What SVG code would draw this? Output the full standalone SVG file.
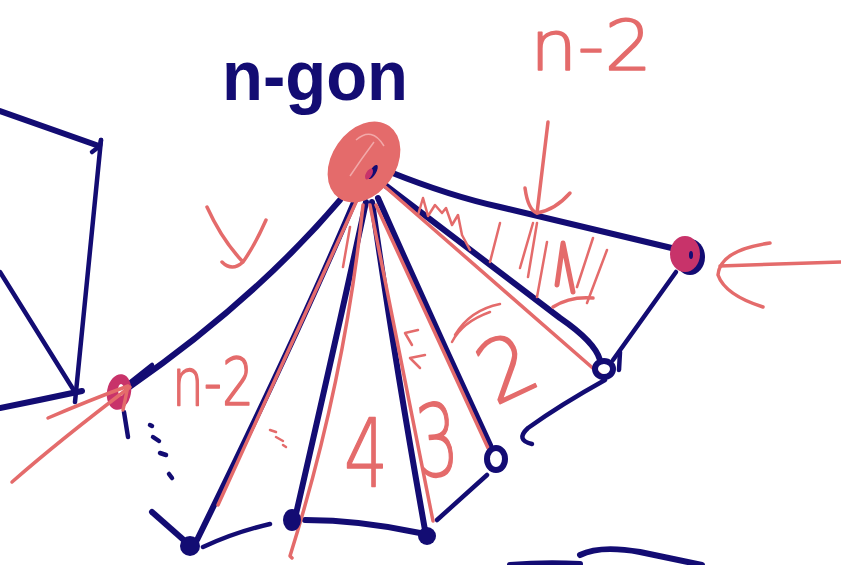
<svg xmlns="http://www.w3.org/2000/svg" width="841" height="565" viewBox="0 0 841 565">
<style>
.nv{fill:none;stroke:#130C73;stroke-width:6;stroke-linecap:round;stroke-linejoin:round}
.nt{fill:none;stroke:#130C73;stroke-width:4.5;stroke-linecap:round;stroke-linejoin:round}
.co{fill:none;stroke:#E46B6B;stroke-width:3.5;stroke-linecap:round;stroke-linejoin:round}
.ct{fill:none;stroke:#E46B6B;stroke-width:2.5;stroke-linecap:round;stroke-linejoin:round}
.lab{fill:#E46B6B;stroke:#E46B6B;stroke-width:1.5;stroke-linejoin:round;font-family:"DejaVu Sans","Liberation Sans",sans-serif;font-weight:200}
.title{fill:#130C73;font-family:"Liberation Sans","DejaVu Sans",sans-serif;font-weight:bold}
.dot{fill:#130C73}
</style>
<rect width="841" height="565" fill="#ffffff"/>

<g id="connectors">
  <path class="nv" d="M0,111 L99,146"/>
  <path class="nt" d="M92,152 L100,146 L101,140"/>
  <path class="nt" d="M101,140 L75,402"/>
  <path class="nt" d="M0,272 L73,389"/>
  <path class="nv" d="M0,408 Q40,400 82,391"/>
  <path class="nv" d="M340,200 Q255,300 128,388"/>
  <path class="nt" d="M128,384 L152,365"/>
  <path class="nv" d="M355,200 Q300,330 197,540"/>
  <path class="nv" d="M366,202 Q345,300 296,514"/>
  <path class="nv" d="M372,202 Q393,350 425,530"/>
  <path class="nv" d="M378,198 Q432,320 490,445"/>
  <path class="nv" d="M385,185 L560,318 Q595,342 600,360"/>
  <path class="nv" d="M390,172 Q450,196 500,207 L680,250"/>
  <path class="nt" d="M676,272 L613,360"/>
  <path class="nt" d="M620,352 L619,370"/>
  <path class="nt" d="M605,380 Q560,405 528,428 Q515,440 532,444"/>
  <path class="nt" d="M487,475 L437,520"/>
  <path class="nv" d="M420,533 Q360,520 305,520"/>
  <path class="nt" d="M270,524 Q235,532 203,547"/>
  <path class="nv" d="M152,512 L186,542"/>
  <path class="nt" d="M124,412 L128,437"/>
  <path class="nv" d="M580,555 Q600,545 640,552 L702,565"/>
  <path class="nv" d="M510,565 Q545,562 580,564"/>
  <path class="nt" d="M150,425 L152,426 M153,437 L159,441 M160,453 L166,455 M169,474 L172,478"/>
</g>

<g id="red-lines">
  <path class="co" d="M357,200 L218,505"/>
  <path class="ct" d="M350,227 L343,267"/>
  <path class="co" d="M363,205 Q345,380 290,556 L292,558"/>
  <path class="co" d="M370,205 L433,521"/>
  <path class="co" d="M376,205 L488,448"/>
  <path class="co" d="M383,185 L603,377"/>
  <path class="ct" d="M270,430 L276,432 M276,437 L283,441 M283,445 L286,447"/>
</g>

<g id="hatching">
  <path class="ct" d="M418,215 L423,198 L428,216 L435,205 L442,213 L446,208 L452,225 L458,215 L462,235 L470,250"/>
  <path class="ct" d="M500,223 L490,262"/>
  <path class="ct" d="M533,223 L520,268 M537,223 L528,277"/>
  <path class="ct" d="M547,242 L537,297"/>
  <path class="co" style="stroke-width:5" d="M557,285 L563,243 L573,292"/>
  <path class="ct" d="M593,238 L577,287"/>
  <path class="ct" d="M607,250 L587,303"/>
  <path class="co" d="M553,307 Q570,296 593,298"/>
  <path class="ct" d="M500,304 Q470,310 455,335 M490,312 Q462,322 452,342"/>
  <path class="ct" d="M412,345 L405,333 L418,330 M420,368 L410,358 L425,355"/>
</g>

<g id="apex-node">
  <ellipse cx="364" cy="162" rx="32" ry="44" transform="rotate(35 364 162)" fill="#E46B6B"/>
  <path fill="none" stroke="#F2A9A9" stroke-width="1.5" d="M356,140 Q372,126 384,146 M350,176 Q362,158 374,142"/>
  <ellipse cx="373" cy="172" rx="3" ry="8" transform="rotate(30 373 172)" fill="#130C73"/>
  <ellipse cx="369" cy="174" rx="3" ry="6" transform="rotate(30 369 174)" fill="#C8336A"/>
</g>

<g id="right-node">
  <ellipse cx="690" cy="257" rx="15" ry="18" fill="#130C73"/>
  <ellipse cx="685" cy="254" rx="15" ry="18" fill="#C8336A"/>
  <ellipse cx="691" cy="255" rx="2" ry="4" fill="#130C73"/>
</g>

<g id="left-node">
  <ellipse cx="119" cy="392" rx="12" ry="18" transform="rotate(10 119 392)" fill="#C8336A"/>
  <ellipse cx="121" cy="390" rx="3" ry="6" fill="#ffffff"/>
</g>

<g id="node-bottom1"><circle class="dot" cx="190" cy="546" r="10"/></g>
<g id="node-bottom2"><ellipse class="dot" cx="292" cy="520" rx="9" ry="11"/></g>
<g id="node-bottom3"><circle class="dot" cx="427" cy="536" r="9"/></g>
<g id="node-right3"><ellipse cx="496" cy="459" rx="9" ry="11" fill="none" stroke="#130C73" stroke-width="6"/></g>
<g id="node-right2"><ellipse cx="604" cy="369" rx="9" ry="8" fill="none" stroke="#130C73" stroke-width="6"/></g>

<g id="arrows">
  <path class="co" d="M548,122 L537,213"/>
  <path class="co" d="M525,188 Q528,210 537,213 Q555,210 570,193"/>
  <path class="co" d="M841,262 L720,266"/>
  <path class="co" d="M770,243 Q720,250 718,275 Q725,295 763,307"/>
  <path class="co" d="M12,482 Q60,440 130,387"/>
  <path class="co" d="M48,418 Q90,400 128,386 L123,410"/>
  <path class="co" d="M207,207 Q222,240 243,262 Q232,272 222,262 M266,220 Q255,245 243,262"/>
</g>

<g id="labels">
  <text class="title" x="222" y="100" font-size="70" textLength="186" lengthAdjust="spacingAndGlyphs">n-gon</text>
  <text class="lab" x="530" y="70" font-size="70" textLength="122" lengthAdjust="spacingAndGlyphs">n-2</text>
  <text class="lab" x="172" y="405" font-size="66" textLength="82" lengthAdjust="spacingAndGlyphs">n-2</text>
  <text class="lab" x="344" y="486" font-size="95" textLength="44" lengthAdjust="spacingAndGlyphs">4</text>
  <text class="lab" x="416" y="476" font-size="100" textLength="42" lengthAdjust="spacingAndGlyphs" transform="rotate(-5 436 440)">3</text>
  <text class="lab" x="478" y="398" font-size="85" textLength="55" lengthAdjust="spacingAndGlyphs" transform="rotate(-25 505 365)">2</text>
</g>
</svg>
